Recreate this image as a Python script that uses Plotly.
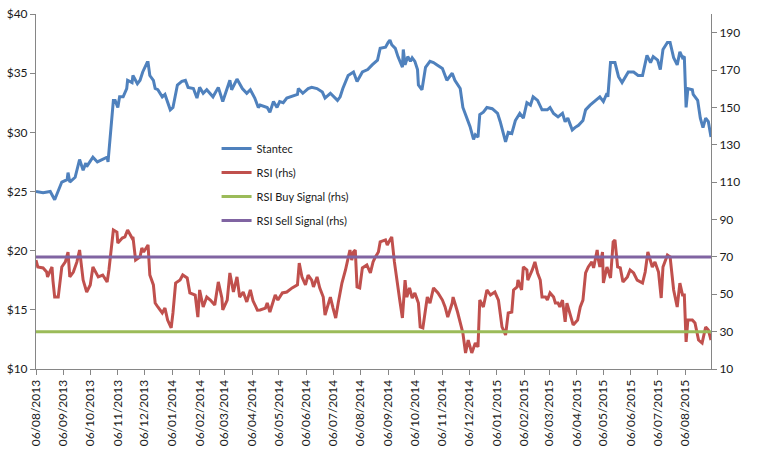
import plotly.graph_objects as go

# ---------------- data ----------------
stantec_dates = [
    "2013-08-06", "2013-08-14", "2013-08-22", "2013-08-27", "2013-09-04", "2013-09-10", "2013-09-11",
    "2013-09-13", "2013-09-19", "2013-09-24", "2013-09-28", "2013-10-01", "2013-10-02", "2013-10-09",
    "2013-10-14", "2013-10-20", "2013-10-25", "2013-10-26", "2013-10-28", "2013-11-01", "2013-11-03",
    "2013-11-06", "2013-11-08", "2013-11-12", "2013-11-16", "2013-11-17", "2013-11-22", "2013-11-23",
    "2013-11-28", "2013-12-01", "2013-12-04", "2013-12-09", "2013-12-10", "2013-12-12", "2013-12-16",
    "2013-12-18", "2013-12-21", "2013-12-26", "2013-12-29", "2014-01-04", "2014-01-07", "2014-01-12",
    "2014-01-17", "2014-01-21", "2014-01-24", "2014-01-30", "2014-02-03", "2014-02-06", "2014-02-10",
    "2014-02-14", "2014-02-21", "2014-02-27", "2014-03-04", "2014-03-12", "2014-03-14", "2014-03-20",
    "2014-03-26", "2014-03-31", "2014-04-04", "2014-04-09", "2014-04-13", "2014-04-15", "2014-04-23",
    "2014-04-26", "2014-04-30", "2014-05-04", "2014-05-07", "2014-05-11", "2014-05-15", "2014-05-27",
    "2014-05-28", "2014-06-02", "2014-06-08", "2014-06-12", "2014-06-18", "2014-06-24", "2014-06-27",
    "2014-07-03", "2014-07-11", "2014-07-14", "2014-07-17", "2014-07-23", "2014-07-29", "2014-08-02",
    "2014-08-08", "2014-08-14", "2014-08-19", "2014-08-25", "2014-08-28", "2014-09-03", "2014-09-06",
    "2014-09-08", "2014-09-10", "2014-09-14", "2014-09-17", "2014-09-22", "2014-09-23", "2014-09-25",
    "2014-09-28", "2014-10-01", "2014-10-03", "2014-10-06", "2014-10-09", "2014-10-10", "2014-10-14",
    "2014-10-18", "2014-10-23", "2014-10-27", "2014-10-31", "2014-11-06", "2014-11-11", "2014-11-17",
    "2014-11-20", "2014-11-26", "2014-11-29", "2014-12-04", "2014-12-07", "2014-12-11", "2014-12-13",
    "2014-12-16", "2014-12-18", "2014-12-22", "2014-12-26", "2015-01-01", "2015-01-07", "2015-01-10",
    "2015-01-16", "2015-01-19", "2015-01-23", "2015-01-27", "2015-01-30", "2015-02-01", "2015-02-05",
    "2015-02-09", "2015-02-13", "2015-02-16", "2015-02-21", "2015-02-26", "2015-03-04", "2015-03-07",
    "2015-03-11", "2015-03-16", "2015-03-21", "2015-03-24", "2015-03-27", "2015-04-01", "2015-04-04",
    "2015-04-08", "2015-04-13", "2015-04-16", "2015-04-21", "2015-04-27", "2015-05-02", "2015-05-06",
    "2015-05-10", "2015-05-11", "2015-05-14", "2015-05-19", "2015-05-23", "2015-05-27", "2015-05-31",
    "2015-06-03", "2015-06-09", "2015-06-14", "2015-06-19", "2015-06-24", "2015-06-28", "2015-07-01",
    "2015-07-06", "2015-07-09", "2015-07-12", "2015-07-17", "2015-07-20", "2015-07-24", "2015-07-28",
    "2015-07-31", "2015-08-03", "2015-08-05", "2015-08-07", "2015-08-09", "2015-08-14", "2015-08-15",
    "2015-08-20", "2015-08-23", "2015-08-26", "2015-08-29", "2015-09-01", "2015-09-04",
]
stantec_price = [
    25.0, 24.9, 25.0, 24.3, 25.8, 26.0, 26.6,
    25.8, 26.2, 27.7, 26.8, 27.4, 27.1, 27.9,
    27.5, 27.7, 27.9, 27.5, 29.1, 32.7, 32.7,
    32.1, 33.0, 33.0, 33.7, 34.4, 34.2, 34.8,
    34.1, 34.4, 35.1, 35.9, 35.9, 34.8, 34.4,
    33.7, 33.6, 33.0, 33.2, 31.9, 32.1, 34.0,
    34.3, 34.4, 33.8, 33.7, 32.9, 33.8, 33.3,
    33.6, 33.0, 33.8, 32.6, 34.4, 33.6, 34.5,
    33.7, 33.3, 33.6, 32.9, 32.1, 32.3, 32.1,
    31.7, 32.6, 32.1, 32.6, 32.5, 32.9, 33.2,
    33.7, 33.3, 33.7, 33.8, 33.7, 33.4, 32.9,
    33.3, 32.7, 33.0, 33.7, 34.8, 35.1, 34.3,
    35.1, 35.3, 35.7, 36.1, 37.1, 37.2, 37.6,
    37.8, 37.4, 37.1, 36.4, 35.5, 37.0, 35.7,
    36.4, 36.0, 36.3, 36.0, 35.3, 34.0, 33.6,
    35.5, 36.0, 35.9, 35.7, 35.4, 34.4, 35.0,
    34.4, 33.7, 32.1, 31.0, 30.5, 29.4, 29.8,
    29.6, 31.5, 31.7, 32.1, 32.0, 31.6, 30.9,
    29.2, 30.0, 29.9, 31.0, 31.3, 31.6, 31.2,
    32.5, 32.3, 33.0, 32.7, 31.9, 31.9, 32.1,
    31.6, 31.3, 31.6, 30.9, 31.2, 30.2, 30.4,
    30.6, 31.0, 31.9, 32.3, 32.7, 33.0, 32.6,
    33.3, 33.0, 35.9, 35.9, 34.7, 34.2, 34.7,
    35.1, 35.1, 34.8, 34.8, 36.5, 35.9, 36.4,
    36.1, 35.3, 37.0, 37.6, 37.6, 36.3, 35.7,
    36.8, 36.3, 36.4, 32.1, 33.7, 33.6, 33.2,
    32.7, 31.2, 30.4, 31.2, 30.9, 29.6,
]

rsi_dates = [
    "2013-08-06", "2013-08-08", "2013-08-14", "2013-08-18", "2013-08-19", "2013-08-24", "2013-08-25",
    "2013-08-27", "2013-08-31", "2013-09-04", "2013-09-08", "2013-09-11", "2013-09-13", "2013-09-17",
    "2013-09-21", "2013-09-24", "2013-09-28", "2013-10-02", "2013-10-06", "2013-10-09", "2013-10-15",
    "2013-10-20", "2013-10-25", "2013-10-27", "2013-11-01", "2013-11-05", "2013-11-06", "2013-11-11",
    "2013-11-14", "2013-11-17", "2013-11-22", "2013-11-23", "2013-11-26", "2013-12-01", "2013-12-03",
    "2013-12-05", "2013-12-10", "2013-12-12", "2013-12-16", "2013-12-18", "2013-12-21", "2013-12-26",
    "2013-12-29", "2014-01-01", "2014-01-05", "2014-01-07", "2014-01-10", "2014-01-15", "2014-01-18",
    "2014-01-23", "2014-01-26", "2014-02-01", "2014-02-04", "2014-02-06", "2014-02-10", "2014-02-14",
    "2014-02-18", "2014-02-23", "2014-02-27", "2014-03-03", "2014-03-04", "2014-03-09", "2014-03-12",
    "2014-03-16", "2014-03-20", "2014-03-23", "2014-03-27", "2014-03-31", "2014-04-04", "2014-04-07",
    "2014-04-12", "2014-04-15", "2014-04-21", "2014-04-23", "2014-04-26", "2014-05-02", "2014-05-05",
    "2014-05-10", "2014-05-15", "2014-05-21", "2014-05-27", "2014-05-29", "2014-06-01", "2014-06-05",
    "2014-06-08", "2014-06-12", "2014-06-14", "2014-06-18", "2014-06-21", "2014-06-25", "2014-06-27",
    "2014-07-03", "2014-07-06", "2014-07-09", "2014-07-12", "2014-07-16", "2014-07-20", "2014-07-23",
    "2014-07-25", "2014-07-27", "2014-07-29", "2014-07-31", "2014-08-02", "2014-08-05", "2014-08-08",
    "2014-08-13", "2014-08-17", "2014-08-20", "2014-08-22", "2014-08-26", "2014-08-28", "2014-09-03",
    "2014-09-05", "2014-09-08", "2014-09-10", "2014-09-13", "2014-09-16", "2014-09-19", "2014-09-22",
    "2014-09-25", "2014-09-27", "2014-09-30", "2014-10-03", "2014-10-06", "2014-10-10", "2014-10-12",
    "2014-10-15", "2014-10-20", "2014-10-23", "2014-10-27", "2014-11-01", "2014-11-06", "2014-11-09",
    "2014-11-12", "2014-11-17", "2014-11-18", "2014-11-23", "2014-11-26", "2014-11-29", "2014-12-02",
    "2014-12-05", "2014-12-09", "2014-12-13", "2014-12-16", "2014-12-18", "2014-12-22", "2014-12-26",
    "2014-12-30", "2015-01-04", "2015-01-08", "2015-01-12", "2015-01-16", "2015-01-19", "2015-01-23",
    "2015-01-25", "2015-01-29", "2015-01-30", "2015-02-03", "2015-02-05", "2015-02-09", "2015-02-10",
    "2015-02-15", "2015-02-18", "2015-02-21", "2015-02-24", "2015-02-26", "2015-03-02", "2015-03-04",
    "2015-03-07", "2015-03-11", "2015-03-13", "2015-03-16", "2015-03-18", "2015-03-21", "2015-03-24",
    "2015-03-26", "2015-03-30", "2015-04-02", "2015-04-07", "2015-04-10", "2015-04-13", "2015-04-16",
    "2015-04-19", "2015-04-23", "2015-04-25", "2015-04-29", "2015-04-30", "2015-05-02", "2015-05-05",
    "2015-05-06", "2015-05-10", "2015-05-14", "2015-05-17", "2015-05-19", "2015-05-22", "2015-05-25",
    "2015-05-28", "2015-06-02", "2015-06-05", "2015-06-09", "2015-06-13", "2015-06-19", "2015-06-22",
    "2015-06-25", "2015-06-30", "2015-07-03", "2015-07-07", "2015-07-10", "2015-07-12", "2015-07-17",
    "2015-07-20", "2015-07-24", "2015-07-28", "2015-07-31", "2015-08-03", "2015-08-05", "2015-08-07",
    "2015-08-09", "2015-08-14", "2015-08-17", "2015-08-21", "2015-08-25", "2015-08-29", "2015-09-01",
    "2015-09-04",
]
rsi_values = [
    68.3, 64.6, 64.1, 61.9, 59.3, 64.6, 57.6,
    48.5, 48.5, 64.6, 67.3, 72.6, 59.3, 61.9,
    67.3, 73.7, 57.6, 51.2, 55.0, 64.6, 59.3,
    60.3, 56.6, 63.0, 84.4, 83.3, 77.4, 80.1,
    80.7, 84.4, 80.1, 80.7, 68.3, 70.0, 74.8,
    72.6, 76.4, 60.3, 55.0, 45.3, 43.2, 40.0,
    42.6, 36.2, 32.0, 40.0, 56.0, 57.6, 60.3,
    58.7, 50.7, 49.6, 37.8, 52.3, 43.2, 48.5,
    46.9, 44.2, 56.6, 48.0, 41.6, 46.9, 61.4,
    51.2, 59.3, 48.5, 51.2, 45.9, 52.3, 46.5,
    41.5, 41.6, 42.6, 45.3, 40.5, 49.6, 46.9,
    50.7, 51.2, 53.4, 55.0, 66.7, 59.3, 55.0,
    60.3, 57.6, 53.9, 59.3, 53.4, 48.5, 38.9,
    48.5, 42.6, 37.3, 45.9, 56.0, 63.0, 69.4,
    73.7, 68.3, 72.6, 73.7, 53.9, 53.4, 64.1,
    65.7, 61.4, 67.3, 69.4, 72.6, 78.0, 79.1,
    76.4, 79.1, 80.7, 67.3, 56.0, 46.9, 37.3,
    57.6, 48.5, 53.4, 48.0, 50.7, 45.3, 32.5,
    32.0, 48.5, 45.3, 53.4, 50.7, 46.9, 43.2,
    37.8, 45.3, 48.5, 40.5, 34.6, 29.3, 18.6,
    25.5, 18.6, 23.9, 21.8, 46.9, 43.2, 52.3,
    49.6, 51.2, 46.9, 32.5, 28.2, 40.0, 40.5,
    52.3, 53.9, 57.6, 52.3, 64.6, 63.0, 57.6,
    63.0, 67.3, 61.4, 57.6, 48.5, 48.5, 46.9,
    50.7, 48.5, 45.3, 45.3, 43.2, 46.9, 35.2,
    45.3, 37.8, 33.6, 36.2, 43.2, 46.9, 61.4,
    64.6, 67.3, 64.1, 73.7, 69.4, 64.6, 72.6,
    56.0, 64.6, 58.7, 78.0, 79.1, 64.6, 64.1,
    56.6, 59.3, 63.0, 61.4, 57.6, 56.0, 61.9,
    72.6, 64.6, 67.3, 61.9, 48.0, 64.6, 71.0,
    70.0, 52.3, 43.2, 56.0, 49.6, 49.6, 24.5,
    36.2, 36.2, 34.6, 25.5, 23.9, 32.5, 30.9,
    25.5,
]

buy_signal_level = 30
sell_signal_level = 70
axis_start = "2013-08-06"
axis_end = "2015-09-04"

series_names = ["Stantec", "RSI (rhs)", "RSI Buy Signal (rhs)", "RSI Sell Signal (rhs)"]
series_colors = ["#4F81BD", "#C0504D", "#9BBB59", "#8064A2"]

# ---------------- figure ----------------
FONT = "Lato, 'Open Sans', 'DejaVu Sans', sans-serif"
fig = go.Figure()

fig.add_trace(go.Scatter(
    x=stantec_dates, y=stantec_price, mode="lines", name=series_names[0],
    line=dict(color=series_colors[0], width=3), yaxis="y", legendgroup="g1",
))
fig.add_trace(go.Scatter(
    x=rsi_dates, y=rsi_values, mode="lines", name=series_names[1],
    line=dict(color=series_colors[1], width=3), yaxis="y2", legendgroup="g2",
))
fig.add_trace(go.Scatter(
    x=[rsi_dates[0], rsi_dates[-1]], y=[buy_signal_level, buy_signal_level],
    mode="lines", name=series_names[2],
    line=dict(color=series_colors[2], width=3), yaxis="y2", legendgroup="g3",
))
fig.add_trace(go.Scatter(
    x=[rsi_dates[0], rsi_dates[-1]], y=[sell_signal_level, sell_signal_level],
    mode="lines", name=series_names[3],
    line=dict(color=series_colors[3], width=3), yaxis="y2", legendgroup="g4",
))

axis_common = dict(
    showgrid=False, zeroline=False, showline=True, linecolor="#868686", linewidth=1,
    ticks="outside", ticklen=5, tickcolor="#868686", automargin=False,
    tickfont=dict(family=FONT, size=12, color="#1a1a1a"),
)

fig.update_layout(
    width=758, height=451,
    margin=dict(l=36, r=47, t=14, b=82, autoexpand=False),
    paper_bgcolor="white", plot_bgcolor="white",
    font=dict(family=FONT, size=12, color="#1a1a1a"),
    showlegend=True,
    hovermode=False,
    legend=dict(
        x=0.2675, y=0.662, xanchor="left", yanchor="top",
        bgcolor="rgba(0,0,0,0)", font=dict(family=FONT, size=11, color="#1a1a1a"),
        tracegroupgap=5, itemwidth=30, traceorder="grouped",
    ),
    xaxis=dict(
        type="date", range=[axis_start, axis_end],
        tick0=axis_start, dtick="M1", tickformat="%d/%m/%Y", tickangle=-90,
        **axis_common,
    ),
    yaxis=dict(range=[10, 40], dtick=5, tickprefix="$", **axis_common),
    yaxis2=dict(range=[10, 200], tick0=10, dtick=20, overlaying="y", side="right",
                **axis_common),
)

fig.write_html(
    "out.html",
    config={"displayModeBar": False},
    post_script="document.body.style.margin='0';document.body.style.overflow='hidden';",
)
